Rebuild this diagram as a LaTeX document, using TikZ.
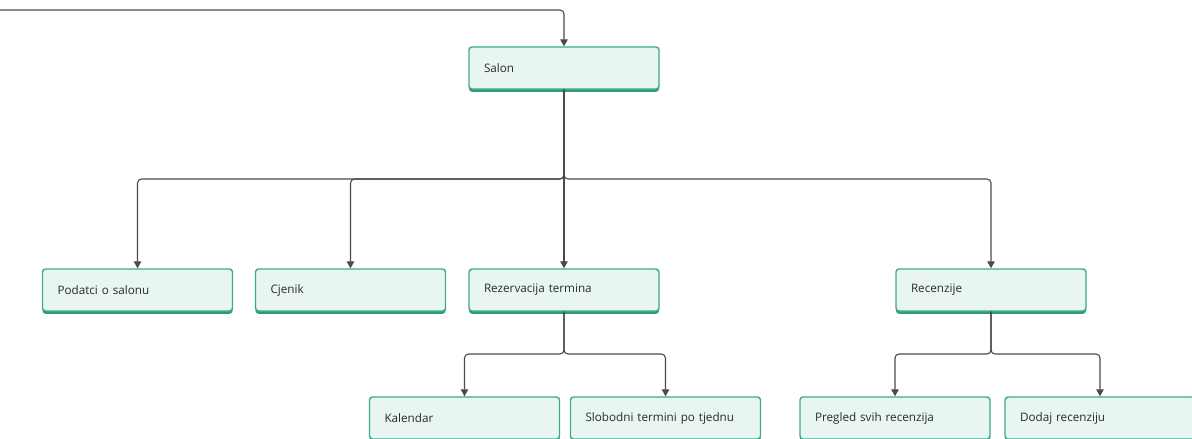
\documentclass[tikz,border=0pt]{standalone}
\usepackage{fontspec}
\setmainfont{Open Sans}
\usetikzlibrary{shadows,arrows.meta}
\definecolor{boxfill}{HTML}{E8F5F1}
\definecolor{boxline}{HTML}{3DAA8C}
\definecolor{boxshade}{HTML}{2E9C7C}
\definecolor{txt}{HTML}{2B2B2B}
\definecolor{conncol}{HTML}{4A4A4A}
\tikzset{
  box/.style={draw=boxline, fill=boxfill, line width=1.4pt, rounded corners=3pt,
    minimum width=190pt, minimum height=42pt, inner xsep=15pt, inner ysep=0pt,
    text width=160pt, align=left, text=txt, font=\fontsize{11.7}{14}\selectfont,
    general shadow={fill=boxshade, shadow yshift=-2.8pt}},
  lbl/.style={yshift=2pt},
  conn/.style={draw=conncol, line width=1.1pt, rounded corners=4pt,
    -{Triangle[length=7pt,width=7.5pt]}}
}
\begin{document}
\begin{tikzpicture}[x=1pt,y=-1pt]
\useasboundingbox[fill=white] (0,0) rectangle (1192,439);
\node[box] (salon) at (564,68) {Salon};
\node[box] (podatci) at (137.5,290) {Podatci o salonu};
\node[box] (cjenik) at (350.5,290) {Cjenik};
\node[box] (rez) at (564,290) {Rezervacija termina};
\node[box] (rec) at (991,290) {Recenzije};
\node[box] (kal) at (464.5,418) {Kalendar};
\node[box] (slob) at (665.5,418) {Slobodni termini po tjednu};
\node[box] (preg) at (895,418) {Pregled svih recenzija};
\node[box] (dodaj) at (1100,418) {Dodaj recenziju};
\coordinate (src) at (0,10);
\coordinate (j1) at (564,179);
\coordinate (j2) at (564,354);
\coordinate (j3) at (991,354);
\draw[conn] (src) -| (salon.north);
\foreach \t in {podatci,cjenik,rez,rec}
  \draw[conn] (salon.south) -- (j1) -| (\t.north);
\foreach \t in {kal,slob}
  \draw[conn] (rez.south) -- (j2) -| (\t.north);
\foreach \t in {preg,dodaj}
  \draw[conn] (rec.south) -- (j3) -| (\t.north);
\end{tikzpicture}
\end{document}
